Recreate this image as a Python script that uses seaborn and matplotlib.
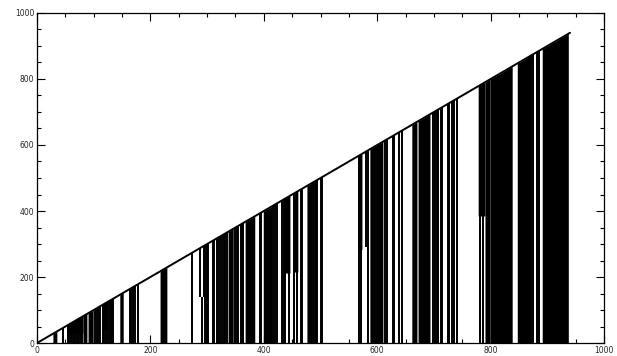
import matplotlib
matplotlib.use('Agg')
import matplotlib.pyplot as plt
import seaborn as sns
import numpy as np
import pandas as pd
from matplotlib.ticker import MultipleLocator

sns.set_style('ticks')
plt.rcParams['font.family'] = ['DejaVu Sans']

# envelope (value rises with index until the record ends)
diag_x = [0, 940]
diag_y = [0, 940]

# dense dropout runs: start index, end index, lowest value reached
block_start = [28, 55, 81, 90, 115, 146, 217, 337, 367, 399, 437, 452, 476,
               566, 587, 661, 672, 778, 790, 799, 847, 891]
block_end = [35, 81, 88, 99, 123, 152, 229, 346, 384, 414, 446, 460, 485,
             573, 610, 670, 693, 790, 799, 838, 870, 937]
block_low = [0, 30, 0, 0, 40, 0, 0, 0, 0, 0, 212, 215, 0,
             283, 0, 0, 0, 385, 0, 0, 0, 0]

# single dropouts: index, lowest value reached
spike_x = [46, 54, 57, 60, 62, 65, 67, 70, 72, 75, 77, 79, 103, 106, 108,
           111, 116, 119, 121, 126, 128, 130, 132, 134, 164, 166, 169, 173,
           178, 274, 288, 295, 297, 300, 302, 310, 313, 318, 320, 322, 327,
           329, 331, 335, 350, 352, 354, 359, 361, 363, 393, 395, 416, 420,
           423, 432, 435, 438, 445, 453, 459, 465, 468, 487, 490, 492, 494,
           500, 503, 567, 572, 580, 583, 614, 618, 627, 630, 638, 643, 698,
           702, 705, 708, 712, 715, 724, 727, 731, 735, 740, 782, 786, 872,
           875, 882, 886]
spike_low = [0, 0, 0, 0, 0, 0, 0, 0, 0, 0, 0, 0, 0, 0, 0,
             0, 0, 0, 0, 0, 0, 0, 0, 0, 0, 0, 0, 0,
             0, 0, 140, 140, 0, 0, 0, 0, 0, 0, 0, 0, 0,
             0, 0, 0, 0, 0, 0, 0, 0, 0, 0, 0, 0, 0,
             0, 0, 0, 0, 0, 0, 0, 0, 0, 0, 0, 0, 0,
             0, 0, 0, 0, 290, 0, 0, 0, 0, 0, 0, 0, 0,
             0, 0, 0, 0, 0, 0, 0, 0, 0, 0, 0, 0, 0,
             0, 0, 0]

# short stubs from zero: index, value
stub_x = [291.5]
stub_top = [140]

fig = plt.figure(figsize=(6.17, 3.56), dpi=100)
ax = fig.add_axes([0.060, 0.0365, 0.919, 0.927])

df = pd.DataFrame({'x': diag_x, 'y': diag_y})
sns.lineplot(data=df, x='x', y='y', color='black', lw=1.4, ax=ax)

for s, e, lo in zip(block_start, block_end, block_low):
    ax.fill_between([s, e], [lo, lo], [s, e], color='black', lw=0)

sx = np.array(spike_x, dtype=float)
ax.vlines(sx, spike_low, sx, color='black', lw=1.4)
ax.vlines(stub_x, 0, stub_top, color='black', lw=1.4)

ax.set_xlim(0, 1000)
ax.set_ylim(0, 1000)
ax.set_xlabel('')
ax.set_ylabel('')
ax.xaxis.set_major_locator(MultipleLocator(200))
ax.xaxis.set_minor_locator(MultipleLocator(50))
ax.yaxis.set_major_locator(MultipleLocator(200))
ax.yaxis.set_minor_locator(MultipleLocator(50))
ax.tick_params(which='both', direction='in', top=True, right=True,
               width=0.8, color='black', labelsize=5.5, pad=2)
ax.tick_params(which='major', length=6)
ax.tick_params(which='minor', length=3)
for sp in ax.spines.values():
    sp.set_linewidth(0.9)
    sp.set_color('black')

fig.savefig('out.png', dpi=100)
